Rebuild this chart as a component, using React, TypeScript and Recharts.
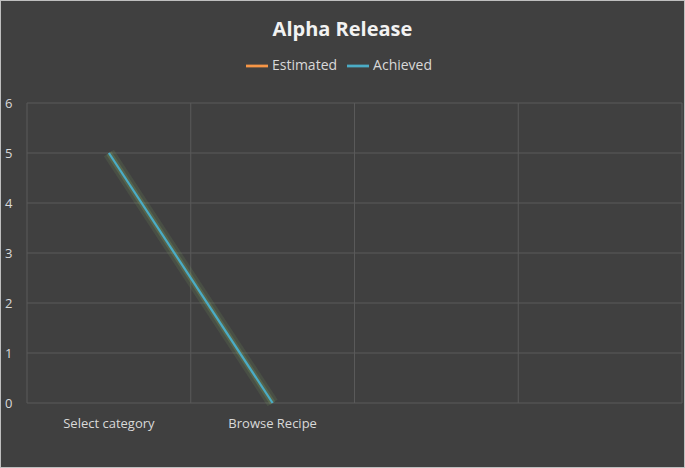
import React from "react";
import { LineChart, Line, XAxis, YAxis, CartesianGrid, Legend } from "recharts";

const categories = ["Select category", "Browse Recipe", "", " "];
const estimated: (number | null)[] = [null, null, null, null];
const achieved: (number | null)[] = [5, 0, null, null];
const yTicks = [0, 1, 2, 3, 4, 5, 6];

const data = categories.map((name, i) => ({
  name,
  estimated: estimated[i],
  achieved: achieved[i],
  glow: achieved[i],
}));

const font = "'Segoe UI', 'Open Sans', 'DejaVu Sans', sans-serif";

const YTick = (props: any) => (
  <text x={4} y={props.y + 5} fill="#d9d9d9" fontSize={13} fontFamily={font}>
    {props.payload.value}
  </text>
);

// vertical grid at the band edges, like the spreadsheet original
const bandEdges = ({ offset }: any) =>
  categories.map((_, i) => offset.left + (i * offset.width) / categories.length).concat(offset.left + offset.width);

export default function App() {
  return (
    <div style={{ position: "absolute", top: 0, left: 0, width: 685, height: 468, background: "#404040", boxSizing: "border-box", border: "1px solid #bfbfbf" }}>
      <div style={{ position: "absolute", top: 14, width: "100%", textAlign: "center", color: "#f2f2f2", fontFamily: font, fontWeight: "bold", fontSize: 20 }}>
        Alpha Release
      </div>
      <LineChart width={683} height={466} data={data} margin={{ top: 78, right: 2, bottom: 34, left: 0 }}>
        <CartesianGrid stroke="#5a5a5a" verticalCoordinatesGenerator={bandEdges} />
        <XAxis dataKey="name" axisLine={false} tickLine={false} interval={0} scale="band"
          tick={{ fill: "#d9d9d9", fontSize: 13, fontFamily: font }} dy={8} />
        <YAxis domain={[0, 6]} ticks={yTicks} width={26} axisLine={false} tickLine={false} tick={<YTick />} />
        <Legend verticalAlign="top" align="center" iconType="plainline" iconSize={22} itemSorter={null as any}
          wrapperStyle={{ top: 54, left: 229, width: 228, background: "#404040", fontFamily: font, fontSize: 14, height: 24 }}
          formatter={(v) => <span style={{ color: "#d9d9d9" }}>{v}</span>} />
        <Line dataKey="glow" stroke="#8fbf6a" strokeOpacity={0.12} strokeWidth={12} dot={false} legendType="none" isAnimationActive={false} />
        <Line dataKey="glow" stroke="#8fbf6a" strokeOpacity={0.2} strokeWidth={6} dot={false} legendType="none" isAnimationActive={false} />
        <Line dataKey="estimated" name="Estimated" stroke="#f79646" strokeWidth={2} dot={false} isAnimationActive={false} />
        <Line dataKey="achieved" name="Achieved" stroke="#4bacc6" strokeWidth={2.25} dot={false} isAnimationActive={false} />
      </LineChart>
    </div>
  );
}
